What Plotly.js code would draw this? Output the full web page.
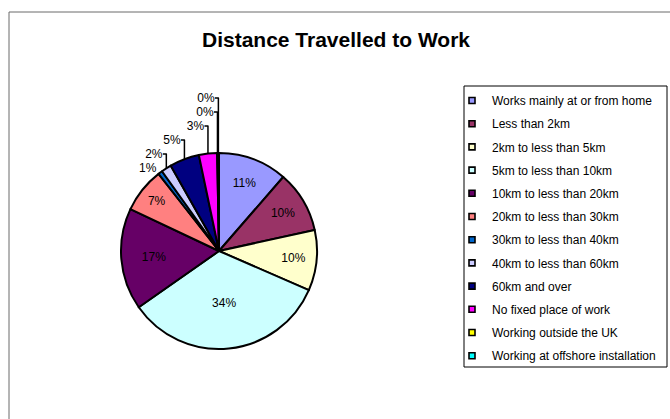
<!DOCTYPE html>
<html>
<head>
<meta charset="utf-8">
<script src="https://cdn.plot.ly/plotly-3.0.1.min.js"></script>
<style>html,body{margin:0;padding:0;background:#fff;}#chart{width:670px;height:419px;}</style>
</head>
<body>
<div id="chart"></div>
<script>
// Data
var categories = [
  "Works mainly at or from home",
  "Less than 2km",
  "2km to less than 5km",
  "5km to less than 10km",
  "10km to less than 20km",
  "20km to less than 30km",
  "30km to less than 40km",
  "40km to less than 60km",
  "60km and over",
  "No fixed place of work",
  "Working outside the UK",
  "Working at offshore installation"
];
var shares = [11.4, 10.2, 10.0, 33.8, 16.8, 7.4, 0.7, 1.7, 4.9, 3.0, 0.1, 0.2];
var sliceColors = ["#9999FF", "#993366", "#FFFFCC", "#CCFFFF", "#660066", "#FF8080",
                   "#0066CC", "#CCCCFF", "#000080", "#FF00FF", "#FFFF00", "#00FFFF"];
var textPos = ["inside","inside","inside","inside","inside","inside",
               "outside","outside","outside","outside","outside","outside"];

var W = 670, H = 419;
var cx = 219, cy = 251, R = 98;

var traces = [{
  type: "pie",
  labels: categories,
  values: shares,
  sort: false,
  direction: "clockwise",
  rotation: 0,
  marker: {colors: sliceColors, line: {color: "#000000", width: 2}},
  texttemplate: "%{percent:.0%}",
  textposition: textPos,
  insidetextorientation: "horizontal",
  textfont: {family: "Liberation Sans, Arial, sans-serif", size: 12, color: "#000000"},
  outsidetextfont: {family: "Liberation Sans, Arial, sans-serif", size: 12, color: "#000000"},
  insidetextfont: {family: "Liberation Sans, Arial, sans-serif", size: 12, color: "#000000"},
  domain: {x: [(cx - R) / W, (cx + R) / W], y: [(H - cy - R) / H, (H - cy + R) / H]},
  showlegend: false,
  hoverinfo: "label+percent"
}];

// legend entries (one per category)
categories.forEach(function (c, i) {
  traces.push({
    type: "scatter", mode: "markers", x: [null], y: [null],
    name: c, legendgroup: "g" + i, showlegend: true,
    marker: {symbol: "square", size: 6, color: sliceColors[i], line: {color: "#000000", width: 1.6}},
    hoverinfo: "skip"
  });
});

var layout = {
  width: W, height: H,
  margin: {l: 0, r: 0, t: 0, b: 0},
  paper_bgcolor: "#ffffff",
  plot_bgcolor: "rgba(0,0,0,0)",
  font: {family: "Liberation Sans, Arial, sans-serif", color: "#000000"},
  title: {
    text: "<b>Distance Travelled to Work</b>",
    font: {family: "Liberation Sans, Arial, sans-serif", size: 21, color: "#000000"},
    x: 336 / W, xanchor: "center", y: 1 - 40 / H, yanchor: "middle"
  },
  xaxis: {visible: false, domain: [0.9, 0.91]},
  yaxis: {visible: false, domain: [0.9, 0.91]},
  showlegend: true,
  legend: {
    x: 452 / W, xanchor: "left",
    y: 1 - 86 / H, yanchor: "top",
    bgcolor: "rgba(0,0,0,0)", borderwidth: 0,
    font: {family: "Liberation Sans, Arial, sans-serif", size: 12, color: "#000000"},
    tracegroupgap: 4.2,
    itemclick: false
  },
  shapes: [
    {type: "rect", xref: "paper", yref: "paper", x0: 9 / W, x1: 1.05, y0: -0.05, y1: 1 - 12 / H,
     line: {color: "#6b6b6b", width: 1}, fillcolor: "rgba(0,0,0,0)", layer: "below"},
    {type: "rect", xref: "paper", yref: "paper", x0: 464 / W, x1: 667 / W, y0: 1 - 367 / H, y1: 1 - 86 / H,
     line: {color: "#000000", width: 1}, fillcolor: "rgba(0,0,0,0)", layer: "below"}
  ]
};

Plotly.newPlot("chart", traces, layout, {displayModeBar: false, staticPlot: true});
</script>
</body>
</html>
